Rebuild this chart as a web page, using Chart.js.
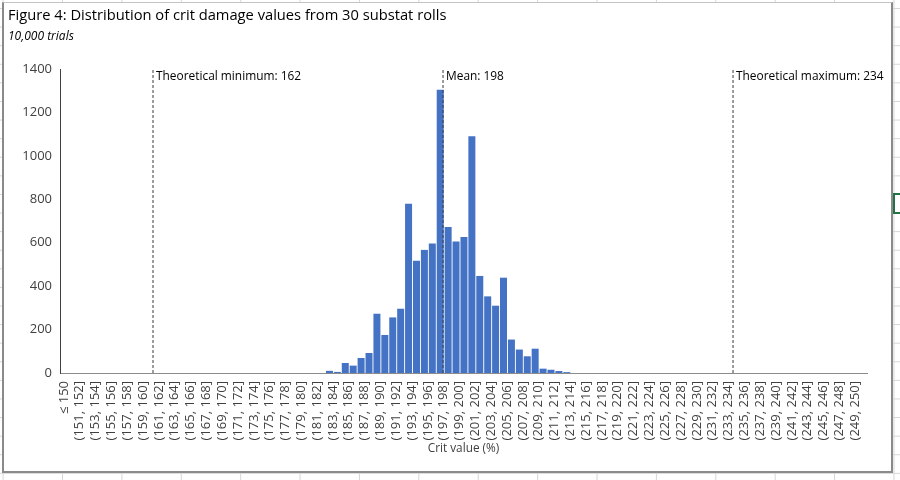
<!DOCTYPE html>
<html>
<head>
<meta charset="utf-8">
<title>Figure 4: Distribution of crit damage values</title>
<script src="https://cdn.jsdelivr.net/npm/chart.js@4.4.1/dist/chart.umd.min.js"></script>
<style>
  html, body { margin: 0; padding: 0; width: 900px; height: 480px; overflow: hidden; }
  body {
    background-color: #fff;
    background-image:
      linear-gradient(to right, #d6d6d6 1px, transparent 1px),
      linear-gradient(to bottom, #d6d6d6 1px, transparent 1px);
    background-size: 59.4px 18.6px;
    background-position: 62px 8px;
  }
  #chartFrame {
    position: absolute; left: 2px; top: 2px; width: 891px; height: 471px;
    box-sizing: border-box; background: #fff;
    border: 2px solid #8a8a8a; border-top: 1px solid #c4c4c4;
  }
  #cellSelect {
    position: absolute; left: 893px; top: 193px; width: 12px; height: 21px;
    box-sizing: border-box; border: 2px solid #217346;
  }
  #chartBox { position: absolute; left: 0; top: 0; width: 900px; height: 480px; }
</style>
</head>
<body>
<div id="chartFrame"></div>
<div id="cellSelect"></div>
<div id="chartBox"><canvas id="histChart" width="900" height="480"></canvas></div>
<script>
// Histogram bins: "≤ 150", (150, 151] ... (249, 250], "> 250"
const binLabels = ['≤ 150'];
for (let v = 150; v < 250; v++) {
    binLabels.push('(' + v + ', ' + (v + 1) + ']');
}
binLabels.push('> 250');

// Counts per bin (10,000 trials)
const critCounts = [
    0, 0, 0, 0, 0, 0, 0, 0, 0, 0,          // ≤150 .. (158,159]
    0, 0, 0, 0, 0, 0, 0, 0, 0, 0,          // (159,160] .. (168,169]
    0, 0, 0, 0, 0, 0, 0, 0, 0, 0,          // (169,170] .. (178,179]
    0, 0, 0, 0,                            // (179,180] .. (182,183]
    10, 5, 46, 34, 69, 92,                 // (183,184] .. (188,189]
    273, 175, 256, 296, 780, 517, 567, 597, // (189,190] .. (196,197]
    1305, 672, 606, 626, 1090, 447, 353, 310, // (197,198] .. (204,205]
    439, 154, 108, 77, 112, 20, 15, 9, 4,  // (205,206] .. (213,214]
    0, 0, 0, 0, 0, 0, 0, 0, 0, 0,
    0, 0, 0, 0, 0, 0, 0, 0, 0, 0,
    0, 0, 0, 0, 0, 0, 0, 0, 0, 0,
    0, 0, 0, 0, 0, 0, 0                    // .. (249,250], >250
];

// Reference lines
const markerValues = [162, 198, 234];
const markerLabels = ['Theoretical minimum: 162', 'Mean: 198', 'Theoretical maximum: 234'];
const yMax = 1400;
const yStep = 200;

const FONT = '"Open Sans", "Noto Sans", sans-serif';

// one dashed vertical line dataset per marker
const markerSets = markerValues.map((v, i) => ({
    type: 'line',
    label: markerLabels[i],
    xAxisID: 'x2',
    data: [{ x: v, y: 0 }, { x: v, y: yMax }],
    borderColor: '#3a3a3a',
    borderWidth: 1,
    borderDash: [3, 2],
    pointRadius: 0,
    order: 0
}));

// draws the text next to the top of each dashed line
const markerLabelPlugin = {
    id: 'markerLabels',
    afterDatasetsDraw(chart) {
        const ctx = chart.ctx;
        ctx.save();
        ctx.font = '11.9px ' + FONT;
        ctx.fillStyle = '#000';
        ctx.textBaseline = 'middle';
        ctx.textAlign = 'left';
        chart.data.datasets.forEach((ds, i) => {
            if (ds.type !== 'line') return;
            const top = chart.getDatasetMeta(i).data[1];
            ctx.fillText(ds.label, top.x + 3, top.y + 8);
        });
        ctx.restore();
    }
};

const ctx = document.getElementById('histChart').getContext('2d');
new Chart(ctx, {
    type: 'bar',
    data: {
        labels: binLabels,
        datasets: [{
            label: 'Count',
            data: critCounts,
            backgroundColor: '#4472C4',
            borderWidth: 0,
            barThickness: 7,
            inflateAmount: 0,
            order: 1
        }].concat(markerSets)
    },
    options: {
        responsive: false,
        animation: false,
        layout: { padding: { left: 8, right: 33, top: 0, bottom: 0 } },
        plugins: {
            legend: { display: false },
            tooltip: { enabled: false },
            title: {
                display: true,
                text: 'Figure 4: Distribution of crit damage values from 30 substat rolls',
                align: 'start',
                color: '#000',
                font: { family: FONT, size: 14.7, weight: 'normal' },
                padding: { top: 7.2, bottom: 5 }
            },
            subtitle: {
                display: true,
                text: '10,000 trials',
                align: 'start',
                color: '#000',
                font: { family: FONT, size: 12, style: 'italic' },
                padding: { top: 0, bottom: 24.8 }
            }
        },
        scales: {
            x: {
                type: 'category',
                offset: true,
                grid: { display: false, drawTicks: false },
                border: { display: true, color: '#8c8c8c', width: 1 },
                ticks: {
                    autoSkip: false,
                    maxRotation: 90,
                    minRotation: 90,
                    padding: 8,
                    color: '#404040',
                    font: { family: FONT, size: 13 },
                    callback: (v, i) => (i % 2 === 0 ? binLabels[i] : '')
                },
                title: {
                    display: true,
                    text: 'Crit value (%)',
                    color: '#404040',
                    font: { family: FONT, size: 11.8 },
                    padding: { top: 4, bottom: 24 }
                },
                afterFit: (scale) => { scale.height = 107; }
            },
            x2: {
                type: 'linear',
                display: false,
                offset: false,
                bounds: 'data',
                min: 150.455,
                max: 250.63
            },
            y: {
                min: 0,
                max: yMax,
                grid: { display: false, drawTicks: false },
                border: { display: true, color: '#404040', width: 1 },
                ticks: {
                    stepSize: yStep,
                    padding: 8,
                    color: '#404040',
                    font: { family: FONT, size: 13 },
                    callback: (v) => String(v)
                },
                afterFit: (scale) => { scale.width = 52; }
            }
        }
    },
    plugins: [markerLabelPlugin]
});
</script>
</body>
</html>
